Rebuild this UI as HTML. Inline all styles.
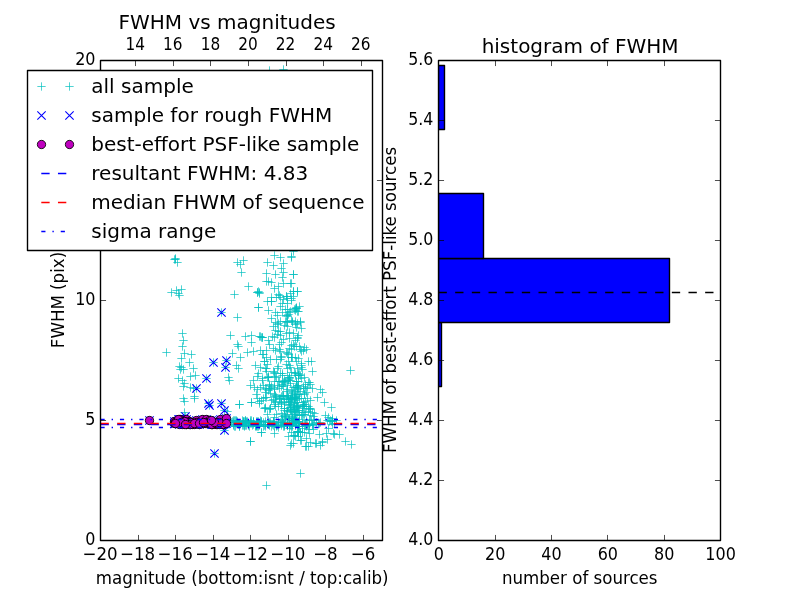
<!DOCTYPE html>
<html><head><meta charset="utf-8"><title>FWHM vs magnitudes</title>
<style>html,body{margin:0;padding:0;background:#fff;overflow:hidden}svg{display:block;will-change:transform}</style>
</head><body>
<svg width="800" height="600" viewBox="0 0 800 600">
<rect x="0" y="0" width="800" height="600" fill="#ffffff"/>
<defs><clipPath id="c1"><rect x="100" y="60" width="282" height="480"/></clipPath><clipPath id="c2"><rect x="438.18" y="60" width="281.82" height="480"/></clipPath></defs>
<g clip-path="url(#c1)">
<path d="M279.33 69.50H287.67M283.50 65.33V73.67M265.33 70.50H273.67M269.50 66.33V74.67M171.33 258.50H179.67M175.50 254.33V262.67M171.33 259.50H179.67M175.50 255.33V263.67M170.33 259.50H178.67M174.50 255.33V263.67M173.33 262.50H181.67M177.50 258.33V266.67M167.33 292.50H175.67M171.50 288.33V296.67M172.33 290.50H180.67M176.50 286.33V294.67M177.33 289.50H185.67M181.50 285.33V293.67M175.33 295.50H183.67M179.50 291.33V299.67M174.33 293.50H182.67M178.50 289.33V297.67M178.33 333.50H186.67M182.50 329.33V337.67M179.33 340.50H187.67M183.50 336.33V344.67M178.33 346.50H186.67M182.50 342.33V350.67M162.33 352.50H170.67M166.50 348.33V356.67M180.33 353.50H188.67M184.50 349.33V357.67M187.33 354.50H195.67M191.50 350.33V358.67M177.33 358.50H185.67M181.50 354.33V362.67M185.33 362.50H193.67M189.50 358.33V366.67M175.33 366.50H183.67M179.50 362.33V370.67M177.33 367.50H185.67M181.50 363.33V371.67M176.33 369.50H184.67M180.50 365.33V373.67M179.33 369.50H187.67M183.50 365.33V373.67M189.33 368.50H197.67M193.50 364.33V372.67M174.33 378.50H182.67M178.50 374.33V382.67M178.33 380.50H186.67M182.50 376.33V384.67M186.33 376.50H194.67M190.50 372.33V380.67M191.33 375.50H199.67M195.50 371.33V379.67M180.33 383.50H188.67M184.50 379.33V387.67M179.33 386.50H187.67M183.50 382.33V390.67M186.33 387.50H194.67M190.50 383.33V391.67M189.33 388.50H197.67M193.50 384.33V392.67M179.33 398.50H187.67M183.50 394.33V402.67M190.33 396.50H198.67M194.50 392.33V400.67M190.33 398.50H198.67M194.50 394.33V402.67M180.33 401.50H188.67M184.50 397.33V405.67M180.33 412.50H188.67M184.50 408.33V416.67M233.33 262.50H241.67M237.50 258.33V266.67M239.33 260.50H247.67M243.50 256.33V264.67M236.33 264.50H244.67M240.50 260.33V268.67M237.33 272.50H245.67M241.50 268.33V276.67M244.33 286.50H252.67M248.50 282.33V290.67M230.33 294.50H238.67M234.50 290.33V298.67M253.33 292.50H261.67M257.50 288.33V296.67M255.33 292.50H263.67M259.50 288.33V296.67M254.33 291.50H262.67M258.50 287.33V295.67M254.33 307.50H262.67M258.50 303.33V311.67M233.33 317.50H241.67M237.50 313.33V321.67M270.33 255.50H278.67M274.50 251.33V259.67M276.33 257.50H284.67M280.50 253.33V261.67M287.33 257.50H295.67M291.50 253.33V261.67M289.33 251.50H297.67M293.50 247.33V255.67M263.33 262.50H271.67M267.50 258.33V266.67M269.33 265.50H277.67M273.50 261.33V269.67M279.33 263.50H287.67M283.50 259.33V267.67M277.33 268.50H285.67M281.50 264.33V272.67M279.33 272.50H287.67M283.50 268.33V276.67M262.33 273.50H270.67M266.50 269.33V277.67M271.33 274.50H279.67M275.50 270.33V278.67M289.33 274.50H297.67M293.50 270.33V278.67M278.33 277.50H286.67M282.50 273.33V281.67M262.33 281.50H270.67M266.50 277.33V285.67M264.33 281.50H272.67M268.50 277.33V285.67M267.33 282.50H275.67M271.50 278.33V286.67M279.33 283.50H287.67M283.50 279.33V287.67M286.33 283.50H294.67M290.50 279.33V287.67M274.33 286.50H282.67M278.50 282.33V290.67M270.33 288.50H278.67M274.50 284.33V292.67M255.33 293.50H263.67M259.50 289.33V297.67M253.33 292.50H261.67M257.50 288.33V296.67M289.33 291.50H297.67M293.50 287.33V295.67M293.33 291.50H301.67M297.50 287.33V295.67M286.33 293.50H294.67M290.50 289.33V297.67M275.33 295.50H283.67M279.50 291.33V299.67M287.33 283.50H295.67M291.50 279.33V287.67M287.33 256.50H295.67M291.50 252.33V260.67M289.33 274.50H297.67M293.50 270.33V278.67M289.33 291.50H297.67M293.50 287.33V295.67M293.33 291.50H301.67M297.50 287.33V295.67M287.33 300.50H295.67M291.50 296.33V304.67M292.33 308.50H300.67M296.50 304.33V312.67M293.33 311.50H301.67M297.50 307.33V315.67M288.33 321.50H296.67M292.50 317.33V325.67M291.33 321.50H299.67M295.50 317.33V325.67M296.33 321.50H304.67M300.50 317.33V325.67M274.33 294.50H282.67M278.50 290.33V298.67M276.33 297.50H284.67M280.50 293.33V301.67M267.33 301.50H275.67M271.50 297.33V305.67M283.33 298.50H291.67M287.50 294.33V302.67M278.33 303.50H286.67M282.50 299.33V307.67M276.33 306.50H284.67M280.50 302.33V310.67M283.33 303.50H291.67M287.50 299.33V307.67M292.33 307.50H300.67M296.50 303.33V311.67M264.33 310.50H272.67M268.50 306.33V314.67M271.33 312.50H279.67M275.50 308.33V316.67M273.33 315.50H281.67M277.50 311.33V319.67M278.33 312.50H286.67M282.50 308.33V316.67M282.33 315.50H290.67M286.50 311.33V319.67M286.33 311.50H294.67M290.50 307.33V315.67M291.33 310.50H299.67M295.50 306.33V314.67M271.33 322.50H279.67M275.50 318.33V326.67M283.33 321.50H291.67M287.50 317.33V325.67M288.33 322.50H296.67M292.50 318.33V326.67M293.33 323.50H301.67M297.50 319.33V327.67M292.33 308.50H300.67M296.50 304.33V312.67M294.33 311.50H302.67M298.50 307.33V315.67M254.33 307.50H262.67M258.50 303.33V311.67M267.33 301.50H275.67M271.50 297.33V305.67M256.33 336.50H264.67M260.50 332.33V340.67M258.33 337.50H266.67M262.50 333.33V341.67M226.33 335.50H234.67M230.50 331.33V339.67M241.33 336.50H249.67M245.50 332.33V340.67M247.33 335.50H255.67M251.50 331.33V339.67M255.33 336.50H263.67M259.50 332.33V340.67M257.33 337.50H265.67M261.50 333.33V341.67M247.33 342.50H255.67M251.50 338.33V346.67M233.33 344.50H241.67M237.50 340.33V348.67M234.33 346.50H242.67M238.50 342.33V350.67M228.33 353.50H236.67M232.50 349.33V357.67M243.33 352.50H251.67M247.50 348.33V356.67M249.33 351.50H257.67M253.50 347.33V355.67M256.33 350.50H264.67M260.50 346.33V354.67M259.33 354.50H267.67M263.50 350.33V358.67M236.33 357.50H244.67M240.50 353.33V361.67M232.33 365.50H240.67M236.50 361.33V369.67M234.33 368.50H242.67M238.50 364.33V372.67M251.33 365.50H259.67M255.50 361.33V369.67M260.33 361.50H268.67M264.50 357.33V365.67M256.33 367.50H264.67M260.50 363.33V371.67M224.33 377.50H232.67M228.50 373.33V381.67M225.33 380.50H233.67M229.50 376.33V384.67M249.33 380.50H257.67M253.50 376.33V384.67M253.33 376.50H261.67M257.50 372.33V380.67M258.33 378.50H266.67M262.50 374.33V382.67M263.33 377.50H271.67M267.50 373.33V381.67M246.33 385.50H254.67M250.50 381.33V389.67M250.33 387.50H258.67M254.50 383.33V391.67M261.33 397.50H269.67M265.50 393.33V401.67M258.33 337.50H266.67M262.50 333.33V341.67M258.33 354.50H266.67M262.50 350.33V358.67M260.33 361.50H268.67M264.50 357.33V365.67M258.33 380.50H266.67M262.50 376.33V384.67M264.33 377.50H272.67M268.50 373.33V381.67M273.33 324.50H281.67M277.50 320.33V328.67M296.33 322.50H304.67M300.50 318.33V326.67M294.33 335.50H302.67M298.50 331.33V339.67M307.33 361.50H315.67M311.50 357.33V365.67M308.33 371.50H316.67M312.50 367.33V375.67M306.33 384.50H314.67M310.50 380.33V388.67M316.33 389.50H324.67M320.50 385.33V393.67M318.33 392.50H326.67M322.50 388.33V396.67M346.33 370.50H354.67M350.50 366.33V374.67M299.33 350.50H307.67M303.50 346.33V354.67M302.33 349.50H310.67M306.50 345.33V353.67M297.33 328.50H305.67M301.50 324.33V332.67M235.33 404.50H243.67M239.50 400.33V408.67M247.33 402.50H255.67M251.50 398.33V406.67M235.33 404.50H243.67M239.50 400.33V408.67M247.33 402.50H255.67M251.50 398.33V406.67M223.33 411.50H231.67M227.50 407.33V415.67M246.33 441.50H254.67M250.50 437.33V445.67M257.33 432.50H265.67M261.50 428.33V436.67M301.33 446.50H309.67M305.50 442.33V450.67M304.33 446.50H312.67M308.50 442.33V450.67M312.33 443.50H320.67M316.50 439.33V447.67M318.33 442.50H326.67M322.50 438.33V446.67M296.33 440.50H304.67M300.50 436.33V444.67M294.33 436.50H302.67M298.50 432.33V440.67M284.33 436.50H292.67M288.50 432.33V440.67M320.33 402.50H328.67M324.50 398.33V406.67M327.33 407.50H335.67M331.50 403.33V411.67M321.33 415.50H329.67M325.50 411.33V419.67M332.33 420.50H340.67M336.50 416.33V424.67M329.33 433.50H337.67M333.50 429.33V437.67M330.33 434.50H338.67M334.50 430.33V438.67M335.33 434.50H343.67M339.50 430.33V438.67M323.33 439.50H331.67M327.50 435.33V443.67M318.33 441.50H326.67M322.50 437.33V445.67M311.33 443.50H319.67M315.50 439.33V447.67M302.33 446.50H310.67M306.50 442.33V450.67M341.33 441.50H349.67M345.50 437.33V445.67M347.33 444.50H355.67M351.50 440.33V448.67M262.33 485.50H270.67M266.50 481.33V489.67M296.33 473.50H304.67M300.50 469.33V477.67M246.33 441.50H254.67M250.50 437.33V445.67M257.33 432.50H265.67M261.50 428.33V436.67M272.33 297.50H280.67M276.50 293.33V301.67M282.33 296.50H290.67M286.50 292.33V300.67M279.33 299.50H287.67M283.50 295.33V303.67M263.33 301.50H271.67M267.50 297.33V305.67M289.33 296.50H297.67M293.50 292.33V300.67M282.33 296.50H290.67M286.50 292.33V300.67M267.33 297.50H275.67M271.50 293.33V301.67M287.33 298.50H295.67M291.50 294.33V302.67M283.33 315.50H291.67M287.50 311.33V319.67M281.33 309.50H289.67M285.50 305.33V313.67M295.33 306.50H303.67M299.50 302.33V310.67M291.33 308.50H299.67M295.50 304.33V312.67M283.33 309.50H291.67M287.50 305.33V313.67M284.33 314.50H292.67M288.50 310.33V318.67M285.33 312.50H293.67M289.50 308.33V316.67M290.33 309.50H298.67M294.50 305.33V313.67M283.33 316.50H291.67M287.50 312.33V320.67M267.33 318.50H275.67M271.50 314.33V322.67M287.33 320.50H295.67M291.50 316.33V324.67M276.33 321.50H284.67M280.50 317.33V325.67M274.33 323.50H282.67M278.50 319.33V327.67M282.33 322.50H290.67M286.50 318.33V326.67M281.33 321.50H289.67M285.50 317.33V325.67M291.33 324.50H299.67M295.50 320.33V328.67M280.33 325.50H288.67M284.50 321.33V329.67M271.33 330.50H279.67M275.50 326.33V334.67M292.33 327.50H300.67M296.50 323.33V331.67M283.33 326.50H291.67M287.50 322.33V330.67M289.33 333.50H297.67M293.50 329.33V337.67M274.33 331.50H282.67M278.50 327.33V335.67M285.33 332.50H293.67M289.50 328.33V336.67M276.33 331.50H284.67M280.50 327.33V335.67M273.33 334.50H281.67M277.50 330.33V338.67M276.33 335.50H284.67M280.50 331.33V339.67M269.33 326.50H277.67M273.50 322.33V330.67M282.33 333.50H290.67M286.50 329.33V337.67M287.33 345.50H295.67M291.50 341.33V349.67M293.33 338.50H301.67M297.50 334.33V342.67M277.33 342.50H285.67M281.50 338.33V346.67M264.33 340.50H272.67M268.50 336.33V344.67M270.33 337.50H278.67M274.50 333.33V341.67M293.33 337.50H301.67M297.50 333.33V341.67M285.33 338.50H293.67M289.50 334.33V342.67M268.33 336.50H276.67M272.50 332.33V340.67M291.33 340.50H299.67M295.50 336.33V344.67M265.33 344.50H273.67M269.50 340.33V348.67M275.33 344.50H283.67M279.50 340.33V348.67M279.33 339.50H287.67M283.50 335.33V343.67M289.33 344.50H297.67M293.50 340.33V348.67M300.33 347.50H308.67M304.50 343.33V351.67M269.33 348.50H277.67M273.50 344.33V352.67M271.33 350.50H279.67M275.50 346.33V354.67M285.33 348.50H293.67M289.50 344.33V352.67M262.33 350.50H270.67M266.50 346.33V354.67M276.33 351.50H284.67M280.50 347.33V355.67M297.33 351.50H305.67M301.50 347.33V355.67M282.33 352.50H290.67M286.50 348.33V356.67M284.33 354.50H292.67M288.50 350.33V358.67M283.33 353.50H291.67M287.50 349.33V357.67M296.33 349.50H304.67M300.50 345.33V353.67M275.33 349.50H283.67M279.50 345.33V353.67M295.33 346.50H303.67M299.50 342.33V350.67M292.33 346.50H300.67M296.50 342.33V350.67M287.33 349.50H295.67M291.50 345.33V353.67M290.33 346.50H298.67M294.50 342.33V350.67M262.33 357.50H270.67M266.50 353.33V361.67M266.33 359.50H274.67M270.50 355.33V363.67M263.33 364.50H271.67M267.50 360.33V368.67M287.33 357.50H295.67M291.50 353.33V361.67M272.33 359.50H280.67M276.50 355.33V363.67M277.33 357.50H285.67M281.50 353.33V361.67M297.33 365.50H305.67M301.50 361.33V369.67M277.33 356.50H285.67M281.50 352.33V360.67M287.33 357.50H295.67M291.50 353.33V361.67M282.33 364.50H290.67M286.50 360.33V368.67M291.33 357.50H299.67M295.50 353.33V361.67M304.33 361.50H312.67M308.50 357.33V365.67M288.33 357.50H296.67M292.50 353.33V361.67M284.33 361.50H292.67M288.50 357.33V365.67M285.33 365.50H293.67M289.50 361.33V369.67M294.33 358.50H302.67M298.50 354.33V362.67M276.33 359.50H284.67M280.50 355.33V363.67M292.33 361.50H300.67M296.50 357.33V365.67M297.33 363.50H305.67M301.50 359.33V367.67M273.33 368.50H281.67M277.50 364.33V372.67M294.33 375.50H302.67M298.50 371.33V379.67M295.33 374.50H303.67M299.50 370.33V378.67M294.33 373.50H302.67M298.50 369.33V377.67M269.33 371.50H277.67M273.50 367.33V375.67M274.33 366.50H282.67M278.50 362.33V370.67M261.33 368.50H269.67M265.50 364.33V372.67M270.33 372.50H278.67M274.50 368.33V376.67M294.33 375.50H302.67M298.50 371.33V379.67M283.33 375.50H291.67M287.50 371.33V379.67M293.33 368.50H301.67M297.50 364.33V372.67M283.33 368.50H291.67M287.50 364.33V372.67M287.33 372.50H295.67M291.50 368.33V376.67M291.33 375.50H299.67M295.50 371.33V379.67M290.33 372.50H298.67M294.50 368.33V376.67M278.33 373.50H286.67M282.50 369.33V377.67M296.33 375.50H304.67M300.50 371.33V379.67M291.33 373.50H299.67M295.50 369.33V377.67M286.33 367.50H294.67M290.50 363.33V371.67M276.33 373.50H284.67M280.50 369.33V377.67M278.33 375.50H286.67M282.50 371.33V379.67M298.33 369.50H306.67M302.50 365.33V373.67M270.33 373.50H278.67M274.50 369.33V377.67M297.33 367.50H305.67M301.50 363.33V371.67M264.33 377.50H272.67M268.50 373.33V381.67M301.33 384.50H309.67M305.50 380.33V388.67M265.33 384.50H273.67M269.50 380.33V388.67M305.33 382.50H313.67M309.50 378.33V386.67M274.33 381.50H282.67M278.50 377.33V385.67M264.33 376.50H272.67M268.50 372.33V380.67M304.33 382.50H312.67M308.50 378.33V386.67M283.33 385.50H291.67M287.50 381.33V389.67M278.33 384.50H286.67M282.50 380.33V388.67M297.33 378.50H305.67M301.50 374.33V382.67M285.33 378.50H293.67M289.50 374.33V382.67M292.33 381.50H300.67M296.50 377.33V385.67M285.33 377.50H293.67M289.50 373.33V381.67M294.33 385.50H302.67M298.50 381.33V389.67M280.33 381.50H288.67M284.50 377.33V385.67M293.33 385.50H301.67M297.50 381.33V389.67M270.33 381.50H278.67M274.50 377.33V385.67M294.33 381.50H302.67M298.50 377.33V385.67M284.33 380.50H292.67M288.50 376.33V384.67M285.33 377.50H293.67M289.50 373.33V381.67M300.33 377.50H308.67M304.50 373.33V381.67M286.33 380.50H294.67M290.50 376.33V384.67M284.33 379.50H292.67M288.50 375.33V383.67M275.33 381.50H283.67M279.50 377.33V385.67M272.33 377.50H280.67M276.50 373.33V381.67M281.33 381.50H289.67M285.50 377.33V385.67M286.33 383.50H294.67M290.50 379.33V387.67M292.33 381.50H300.67M296.50 377.33V385.67M273.33 385.50H281.67M277.50 381.33V389.67M280.33 380.50H288.67M284.50 376.33V384.67M278.33 381.50H286.67M282.50 377.33V385.67M279.33 382.50H287.67M283.50 378.33V386.67M282.33 391.50H290.67M286.50 387.33V395.67M283.33 395.50H291.67M287.50 391.33V399.67M295.33 394.50H303.67M299.50 390.33V398.67M308.33 388.50H316.67M312.50 384.33V392.67M288.33 395.50H296.67M292.50 391.33V399.67M303.33 387.50H311.67M307.50 383.33V391.67M264.33 390.50H272.67M268.50 386.33V394.67M261.33 388.50H269.67M265.50 384.33V392.67M261.33 392.50H269.67M265.50 388.33V396.67M300.33 394.50H308.67M304.50 390.33V398.67M266.33 393.50H274.67M270.50 389.33V397.67M293.33 387.50H301.67M297.50 383.33V391.67M301.33 388.50H309.67M305.50 384.33V392.67M271.33 395.50H279.67M275.50 391.33V399.67M278.33 395.50H286.67M282.50 391.33V399.67M291.33 394.50H299.67M295.50 390.33V398.67M290.33 391.50H298.67M294.50 387.33V395.67M293.33 389.50H301.67M297.50 385.33V393.67M288.33 393.50H296.67M292.50 389.33V397.67M292.33 386.50H300.67M296.50 382.33V390.67M277.33 386.50H285.67M281.50 382.33V390.67M283.33 389.50H291.67M287.50 385.33V393.67M279.33 386.50H287.67M283.50 382.33V390.67M279.33 395.50H287.67M283.50 391.33V399.67M291.33 387.50H299.67M295.50 383.33V391.67M265.33 388.50H273.67M269.50 384.33V392.67M299.33 388.50H307.67M303.50 384.33V392.67M289.33 387.50H297.67M293.50 383.33V391.67M270.33 394.50H278.67M274.50 390.33V398.67M294.33 388.50H302.67M298.50 384.33V392.67M296.33 391.50H304.67M300.50 387.33V395.67M300.33 393.50H308.67M304.50 389.33V397.67M288.33 392.50H296.67M292.50 388.33V396.67M287.33 390.50H295.67M291.50 386.33V394.67M302.33 392.50H310.67M306.50 388.33V396.67M294.33 394.50H302.67M298.50 390.33V398.67M299.33 386.50H307.67M303.50 382.33V390.67M293.33 394.50H301.67M297.50 390.33V398.67M284.33 399.50H292.67M288.50 395.33V403.67M290.33 405.50H298.67M294.50 401.33V409.67M272.33 397.50H280.67M276.50 393.33V401.67M288.33 398.50H296.67M292.50 394.33V402.67M262.33 397.50H270.67M266.50 393.33V401.67M259.33 398.50H267.67M263.50 394.33V402.67M275.33 399.50H283.67M279.50 395.33V403.67M303.33 398.50H311.67M307.50 394.33V402.67M287.33 397.50H295.67M291.50 393.33V401.67M277.33 396.50H285.67M281.50 392.33V400.67M271.33 396.50H279.67M275.50 392.33V400.67M301.33 401.50H309.67M305.50 397.33V405.67M267.33 400.50H275.67M271.50 396.33V404.67M313.33 397.50H321.67M317.50 393.33V401.67M306.33 400.50H314.67M310.50 396.33V404.67M286.33 404.50H294.67M290.50 400.33V408.67M280.33 401.50H288.67M284.50 397.33V405.67M298.33 405.50H306.67M302.50 401.33V409.67M277.33 404.50H285.67M281.50 400.33V408.67M299.33 402.50H307.67M303.50 398.33V406.67M279.33 396.50H287.67M283.50 392.33V400.67M290.33 397.50H298.67M294.50 393.33V401.67M297.33 398.50H305.67M301.50 394.33V402.67M291.33 397.50H299.67M295.50 393.33V401.67M299.33 404.50H307.67M303.50 400.33V408.67M293.33 402.50H301.67M297.50 398.33V406.67M284.33 398.50H292.67M288.50 394.33V402.67M291.33 400.50H299.67M295.50 396.33V404.67M290.33 398.50H298.67M294.50 394.33V402.67M293.33 405.50H301.67M297.50 401.33V409.67M295.33 398.50H303.67M299.50 394.33V402.67M284.33 405.50H292.67M288.50 401.33V409.67M283.33 396.50H291.67M287.50 392.33V400.67M292.33 399.50H300.67M296.50 395.33V403.67M276.33 398.50H284.67M280.50 394.33V402.67M287.33 401.50H295.67M291.50 397.33V405.67M292.33 396.50H300.67M296.50 392.33V400.67M286.33 399.50H294.67M290.50 395.33V403.67M287.33 399.50H295.67M291.50 395.33V403.67M286.33 398.50H294.67M290.50 394.33V402.67M277.33 403.50H285.67M281.50 399.33V407.67M280.33 402.50H288.67M284.50 398.33V406.67M282.33 399.50H290.67M286.50 395.33V403.67M269.33 399.50H277.67M273.50 395.33V403.67M290.33 403.50H298.67M294.50 399.33V407.67M285.33 402.50H293.67M289.50 398.33V406.67M300.33 404.50H308.67M304.50 400.33V408.67M290.33 402.50H298.67M294.50 398.33V406.67M284.33 397.50H292.67M288.50 393.33V401.67M271.33 401.50H279.67M275.50 397.33V405.67M270.33 404.50H278.67M274.50 400.33V408.67M285.33 404.50H293.67M289.50 400.33V408.67M271.33 402.50H279.67M275.50 398.33V406.67M277.33 402.50H285.67M281.50 398.33V406.67M271.33 406.50H279.67M275.50 402.33V410.67M265.33 409.50H273.67M269.50 405.33V413.67M263.33 414.50H271.67M267.50 410.33V418.67M293.33 412.50H301.67M297.50 408.33V416.67M298.33 412.50H306.67M302.50 408.33V416.67M289.33 406.50H297.67M293.50 402.33V410.67M310.33 413.50H318.67M314.50 409.33V417.67M290.33 411.50H298.67M294.50 407.33V415.67M300.33 406.50H308.67M304.50 402.33V410.67M306.33 408.50H314.67M310.50 404.33V412.67M261.33 408.50H269.67M265.50 404.33V412.67M305.33 408.50H313.67M309.50 404.33V412.67M306.33 415.50H314.67M310.50 411.33V419.67M289.33 409.50H297.67M293.50 405.33V413.67M288.33 412.50H296.67M292.50 408.33V416.67M308.33 412.50H316.67M312.50 408.33V416.67M299.33 406.50H307.67M303.50 402.33V410.67M266.33 408.50H274.67M270.50 404.33V412.67M306.33 409.50H314.67M310.50 405.33V413.67M294.33 406.50H302.67M298.50 402.33V410.67M260.33 408.50H268.67M264.50 404.33V412.67M301.33 412.50H309.67M305.50 408.33V416.67M283.33 411.50H291.67M287.50 407.33V415.67M280.33 410.50H288.67M284.50 406.33V414.67M282.33 414.50H290.67M286.50 410.33V418.67M286.33 407.50H294.67M290.50 403.33V411.67M304.33 406.50H312.67M308.50 402.33V410.67M283.33 410.50H291.67M287.50 406.33V414.67M294.33 410.50H302.67M298.50 406.33V414.67M266.33 408.50H274.67M270.50 404.33V412.67M290.33 408.50H298.67M294.50 404.33V412.67M304.33 411.50H312.67M308.50 407.33V415.67M292.33 415.50H300.67M296.50 411.33V419.67M293.33 407.50H301.67M297.50 403.33V411.67M290.33 414.50H298.67M294.50 410.33V418.67M277.33 413.50H285.67M281.50 409.33V417.67M287.33 410.50H295.67M291.50 406.33V414.67M302.33 406.50H310.67M306.50 402.33V410.67M295.33 410.50H303.67M299.50 406.33V414.67M286.33 409.50H294.67M290.50 405.33V413.67M290.33 409.50H298.67M294.50 405.33V413.67M291.33 414.50H299.67M295.50 410.33V418.67M299.33 414.50H307.67M303.50 410.33V418.67M286.33 407.50H294.67M290.50 403.33V411.67M297.33 415.50H305.67M301.50 411.33V419.67M280.33 408.50H288.67M284.50 404.33V412.67M280.33 415.50H288.67M284.50 411.33V419.67M291.33 411.50H299.67M295.50 407.33V415.67M280.33 408.50H288.67M284.50 404.33V412.67M292.33 406.50H300.67M296.50 402.33V410.67M298.33 408.50H306.67M302.50 404.33V412.67M295.33 415.50H303.67M299.50 411.33V419.67M286.33 411.50H294.67M290.50 407.33V415.67M292.33 407.50H300.67M296.50 403.33V411.67M272.33 414.50H280.67M276.50 410.33V418.67M300.33 414.50H308.67M304.50 410.33V418.67M303.33 425.50H311.67M307.50 421.33V429.67M325.33 421.50H333.67M329.50 417.33V425.67M309.33 416.50H317.67M313.50 412.33V420.67M310.33 420.50H318.67M314.50 416.33V424.67M312.33 422.50H320.67M316.50 418.33V426.67M278.33 416.50H286.67M282.50 412.33V420.67M324.33 417.50H332.67M328.50 413.33V421.67M291.33 419.50H299.67M295.50 415.33V423.67M279.33 423.50H287.67M283.50 419.33V427.67M328.33 418.50H336.67M332.50 414.33V422.67M305.33 419.50H313.67M309.50 415.33V423.67M298.33 419.50H306.67M302.50 415.33V423.67M270.33 417.50H278.67M274.50 413.33V421.67M272.33 425.50H280.67M276.50 421.33V429.67M280.33 425.50H288.67M284.50 421.33V429.67M286.33 425.50H294.67M290.50 421.33V429.67M281.33 417.50H289.67M285.50 413.33V421.67M287.33 416.50H295.67M291.50 412.33V420.67M284.33 418.50H292.67M288.50 414.33V422.67M288.33 418.50H296.67M292.50 414.33V422.67M270.33 423.50H278.67M274.50 419.33V427.67M278.33 420.50H286.67M282.50 416.33V424.67M277.33 419.50H285.67M281.50 415.33V423.67M291.33 419.50H299.67M295.50 415.33V423.67M291.33 425.50H299.67M295.50 421.33V429.67M288.33 417.50H296.67M292.50 413.33V421.67M274.33 424.50H282.67M278.50 420.33V428.67M285.33 418.50H293.67M289.50 414.33V422.67M285.33 419.50H293.67M289.50 415.33V423.67M291.33 420.50H299.67M295.50 416.33V424.67M300.33 424.50H308.67M304.50 420.33V428.67M281.33 416.50H289.67M285.50 412.33V420.67M298.33 424.50H306.67M302.50 420.33V428.67M288.33 420.50H296.67M292.50 416.33V424.67M302.33 426.50H310.67M306.50 422.33V430.67M290.33 435.50H298.67M294.50 431.33V439.67M315.33 434.50H323.67M319.50 430.33V438.67M324.33 428.50H332.67M328.50 424.33V432.67M274.33 427.50H282.67M278.50 423.33V431.67M298.33 432.50H306.67M302.50 428.33V436.67M322.33 433.50H330.67M326.50 429.33V437.67M305.33 433.50H313.67M309.50 429.33V437.67M294.33 431.50H302.67M298.50 427.33V435.67M270.33 433.50H278.67M274.50 429.33V437.67M293.33 432.50H301.67M297.50 428.33V436.67M309.33 429.50H317.67M313.50 425.33V433.67M296.33 432.50H304.67M300.50 428.33V436.67M296.33 432.50H304.67M300.50 428.33V436.67M294.33 431.50H302.67M298.50 427.33V435.67M293.33 431.50H301.67M297.50 427.33V435.67M287.33 432.50H295.67M291.50 428.33V436.67M295.33 426.50H303.67M299.50 422.33V430.67M289.33 435.50H297.67M293.50 431.33V439.67M300.33 432.50H308.67M304.50 428.33V436.67M298.33 428.50H306.67M302.50 424.33V432.67M285.33 428.50H293.67M289.50 424.33V432.67M304.33 429.50H312.67M308.50 425.33V433.67M288.33 426.50H296.67M292.50 422.33V430.67M306.33 442.50H314.67M310.50 438.33V446.67M302.33 438.50H310.67M306.50 434.33V442.67M316.33 445.50H324.67M320.50 441.33V449.67M291.33 436.50H299.67M295.50 432.33V440.67M297.33 440.50H305.67M301.50 436.33V444.67M289.33 443.50H297.67M293.50 439.33V447.67M287.33 443.50H295.67M291.50 439.33V447.67M286.33 445.50H294.67M290.50 441.33V449.67M248.33 425.50H256.67M252.50 421.33V429.67M242.33 421.50H250.67M246.50 417.33V425.67M279.33 422.50H287.67M283.50 418.33V426.67M292.33 423.50H300.67M296.50 419.33V427.67M239.33 421.50H247.67M243.50 417.33V425.67M255.33 424.50H263.67M259.50 420.33V428.67M292.33 421.50H300.67M296.50 417.33V425.67M254.33 421.50H262.67M258.50 417.33V425.67M294.33 421.50H302.67M298.50 417.33V425.67M230.33 420.50H238.67M234.50 416.33V424.67M254.33 426.50H262.67M258.50 422.33V430.67M287.33 425.50H295.67M291.50 421.33V429.67M295.33 426.50H303.67M299.50 422.33V430.67M249.33 421.50H257.67M253.50 417.33V425.67M291.33 425.50H299.67M295.50 421.33V429.67M229.33 424.50H237.67M233.50 420.33V428.67M253.33 422.50H261.67M257.50 418.33V426.67M249.33 421.50H257.67M253.50 417.33V425.67M227.33 422.50H235.67M231.50 418.33V426.67M251.33 426.50H259.67M255.50 422.33V430.67M235.33 426.50H243.67M239.50 422.33V430.67M241.33 422.50H249.67M245.50 418.33V426.67M283.33 425.50H291.67M287.50 421.33V429.67M256.33 420.50H264.67M260.50 416.33V424.67M259.33 422.50H267.67M263.50 418.33V426.67M290.33 421.50H298.67M294.50 417.33V425.67M252.33 426.50H260.67M256.50 422.33V430.67M229.33 422.50H237.67M233.50 418.33V426.67M283.33 425.50H291.67M287.50 421.33V429.67M229.33 420.50H237.67M233.50 416.33V424.67M231.33 426.50H239.67M235.50 422.33V430.67M244.33 425.50H252.67M248.50 421.33V429.67M289.33 422.50H297.67M293.50 418.33V426.67M245.33 426.50H253.67M249.50 422.33V430.67M269.33 421.50H277.67M273.50 417.33V425.67M276.33 422.50H284.67M280.50 418.33V426.67M246.33 420.50H254.67M250.50 416.33V424.67M279.33 426.50H287.67M283.50 422.33V430.67M270.33 426.50H278.67M274.50 422.33V430.67M228.33 421.50H236.67M232.50 417.33V425.67M259.33 426.50H267.67M263.50 422.33V430.67M292.33 422.50H300.67M296.50 418.33V426.67M244.33 423.50H252.67M248.50 419.33V427.67M261.33 426.50H269.67M265.50 422.33V430.67M239.33 425.50H247.67M243.50 421.33V429.67M277.33 425.50H285.67M281.50 421.33V429.67M280.33 424.50H288.67M284.50 420.33V428.67M249.33 422.50H257.67M253.50 418.33V426.67M251.33 425.50H259.67M255.50 421.33V429.67M232.33 421.50H240.67M236.50 417.33V425.67M278.33 421.50H286.67M282.50 417.33V425.67M231.33 420.50H239.67M235.50 416.33V424.67M265.33 422.50H273.67M269.50 418.33V426.67M294.33 426.50H302.67M298.50 422.33V430.67M295.33 421.50H303.67M299.50 417.33V425.67M232.33 420.50H240.67M236.50 416.33V424.67M261.33 424.50H269.67M265.50 420.33V428.67M257.33 421.50H265.67M261.50 417.33V425.67M255.33 424.50H263.67M259.50 420.33V428.67M273.33 425.50H281.67M277.50 421.33V429.67M285.33 424.50H293.67M289.50 420.33V428.67M235.33 425.50H243.67M239.50 421.33V429.67M247.33 423.50H255.67M251.50 419.33V427.67M252.33 425.50H260.67M256.50 421.33V429.67M240.33 421.50H248.67M244.50 417.33V425.67M243.33 421.50H251.67M247.50 417.33V425.67M288.33 424.50H296.67M292.50 420.33V428.67M249.33 422.50H257.67M253.50 418.33V426.67M295.33 423.50H303.67M299.50 419.33V427.67M242.33 425.50H250.67M246.50 421.33V429.67M272.33 426.50H280.67M276.50 422.33V430.67M234.33 423.50H242.67M238.50 419.33V427.67M283.33 425.50H291.67M287.50 421.33V429.67M290.33 420.50H298.67M294.50 416.33V424.67M247.33 420.50H255.67M251.50 416.33V424.67M240.33 426.50H248.67M244.50 422.33V430.67M267.33 426.50H275.67M271.50 422.33V430.67M252.33 425.50H260.67M256.50 421.33V429.67M257.33 421.50H265.67M261.50 417.33V425.67M280.33 426.50H288.67M284.50 422.33V430.67M234.33 424.50H242.67M238.50 420.33V428.67M269.33 421.50H277.67M273.50 417.33V425.67M252.33 421.50H260.67M256.50 417.33V425.67M241.33 421.50H249.67M245.50 417.33V425.67M268.33 424.50H276.67M272.50 420.33V428.67M241.33 420.50H249.67M245.50 416.33V424.67M249.33 424.50H257.67M253.50 420.33V428.67M239.33 422.50H247.67M243.50 418.33V426.67M241.33 425.50H249.67M245.50 421.33V429.67M264.33 420.50H272.67M268.50 416.33V424.67M233.33 422.50H241.67M237.50 418.33V426.67M264.33 424.50H272.67M268.50 420.33V428.67M233.33 421.50H241.67M237.50 417.33V425.67M274.33 422.50H282.67M278.50 418.33V426.67M246.33 422.50H254.67M250.50 418.33V426.67M292.33 422.50H300.67M296.50 418.33V426.67M266.33 422.50H274.67M270.50 418.33V426.67M255.33 425.50H263.67M259.50 421.33V429.67M295.33 422.50H303.67M299.50 418.33V426.67M240.33 425.50H248.67M244.50 421.33V429.67M241.33 420.50H249.67M245.50 416.33V424.67M289.33 422.50H297.67M293.50 418.33V426.67M283.33 422.50H291.67M287.50 418.33V426.67M287.33 423.50H295.67M291.50 419.33V427.67M238.33 420.50H246.67M242.50 416.33V424.67M265.33 424.50H273.67M269.50 420.33V428.67M289.33 420.50H297.67M293.50 416.33V424.67M269.33 422.50H277.67M273.50 418.33V426.67M261.33 421.50H269.67M265.50 417.33V425.67M246.33 423.50H254.67M250.50 419.33V427.67M290.33 420.50H298.67M294.50 416.33V424.67M260.33 425.50H268.67M264.50 421.33V429.67M293.33 421.50H301.67M297.50 417.33V425.67M235.33 426.50H243.67M239.50 422.33V430.67M294.33 423.50H302.67M298.50 419.33V427.67M230.33 426.50H238.67M234.50 422.33V430.67M253.33 426.50H261.67M257.50 422.33V430.67M269.33 425.50H277.67M273.50 421.33V429.67M238.33 425.50H246.67M242.50 421.33V429.67M242.33 422.50H250.67M246.50 418.33V426.67M285.33 425.50H293.67M289.50 421.33V429.67M239.33 421.50H247.67M243.50 417.33V425.67M254.33 423.50H262.67M258.50 419.33V427.67M253.33 421.50H261.67M257.50 417.33V425.67M244.33 424.50H252.67M248.50 420.33V428.67M288.33 420.50H296.67M292.50 416.33V424.67M265.33 425.50H273.67M269.50 421.33V429.67M229.33 425.50H237.67M233.50 421.33V429.67M235.33 424.50H243.67M239.50 420.33V428.67M264.33 424.50H272.67M268.50 420.33V428.67M259.33 385.50H267.67M263.50 381.33V389.67M265.33 385.50H273.67M269.50 381.33V389.67M267.33 386.50H275.67M271.50 382.33V390.67M262.33 368.50H270.67M266.50 364.33V372.67M266.33 388.50H274.67M270.50 384.33V392.67M257.33 400.50H265.67M261.50 396.33V404.67M270.33 387.50H278.67M274.50 383.33V391.67M256.33 387.50H264.67M260.50 383.33V391.67M254.33 373.50H262.67M258.50 369.33V377.67M262.33 371.50H270.67M266.50 367.33V375.67M262.33 389.50H270.67M266.50 385.33V393.67M252.33 394.50H260.67M256.50 390.33V398.67M253.33 398.50H261.67M257.50 394.33V402.67M270.33 389.50H278.67M274.50 385.33V393.67M253.33 389.50H261.67M257.50 385.33V393.67M261.33 407.50H269.67M265.50 403.33V411.67M255.33 403.50H263.67M259.50 399.33V407.67M275.33 398.50H283.67M279.50 394.33V402.67M271.33 376.50H279.67M275.50 372.33V380.67M275.33 388.50H283.67M279.50 384.33V392.67M274.33 406.50H282.67M278.50 402.33V410.67M255.33 401.50H263.67M259.50 397.33V405.67M328.33 420.50H336.67M332.50 416.33V424.67M308.33 424.50H316.67M312.50 420.33V428.67M301.33 425.50H309.67M305.50 421.33V429.67M305.33 424.50H313.67M309.50 420.33V428.67M301.33 423.50H309.67M305.50 419.33V427.67M328.33 421.50H336.67M332.50 417.33V425.67M305.33 423.50H313.67M309.50 419.33V427.67M307.33 420.50H315.67M311.50 416.33V424.67M302.33 420.50H310.67M306.50 416.33V424.67M328.33 424.50H336.67M332.50 420.33V428.67M327.33 421.50H335.67M331.50 417.33V425.67M323.33 420.50H331.67M327.50 416.33V424.67M314.33 423.50H322.67M318.50 419.33V427.67M308.33 425.50H316.67M312.50 421.33V429.67M315.33 423.50H323.67M319.50 419.33V427.67M326.33 420.50H334.67M330.50 416.33V424.67M330.33 423.50H338.67M334.50 419.33V427.67M309.33 424.50H317.67M313.50 420.33V428.67M305.33 425.50H313.67M309.50 421.33V429.67M316.33 422.50H324.67M320.50 418.33V426.67M192.33 388.50H200.67M196.50 384.33V392.67M202.33 378.50H210.67M206.50 374.33V382.67M209.33 362.50H217.67M213.50 358.33V366.67M222.33 360.50H230.67M226.50 356.33V364.67M221.33 367.50H229.67M225.50 363.33V371.67M217.33 312.50H225.67M221.50 308.33V316.67M210.33 453.50H218.67M214.50 449.33V457.67M204.33 403.50H212.67M208.50 399.33V407.67M205.33 405.50H213.67M209.50 401.33V409.67M217.33 403.50H225.67M221.50 399.33V407.67M220.33 410.50H228.67M224.50 406.33V414.67M220.33 430.50H228.67M224.50 426.33V434.67M181.33 416.50H189.67M185.50 412.33V420.67M145.33 420.50H153.67M149.50 416.33V424.67M208.33 422.50H216.67M212.50 418.33V426.67M207.33 424.50H215.67M211.50 420.33V428.67M182.33 424.50H190.67M186.50 420.33V428.67M199.33 422.50H207.67M203.50 418.33V426.67M170.33 421.50H178.67M174.50 417.33V425.67M201.33 423.50H209.67M205.50 419.33V427.67M215.33 422.50H223.67M219.50 418.33V426.67M203.33 421.50H211.67M207.50 417.33V425.67M188.33 422.50H196.67M192.50 418.33V426.67M181.33 423.50H189.67M185.50 419.33V427.67M180.33 423.50H188.67M184.50 419.33V427.67M176.33 419.50H184.67M180.50 415.33V423.67M177.33 423.50H185.67M181.50 419.33V427.67M214.33 422.50H222.67M218.50 418.33V426.67M183.33 423.50H191.67M187.50 419.33V427.67M198.33 423.50H206.67M202.50 419.33V427.67M192.33 420.50H200.67M196.50 416.33V424.67M182.33 419.50H190.67M186.50 415.33V423.67M197.33 422.50H205.67M201.50 418.33V426.67M172.33 421.50H180.67M176.50 417.33V425.67M198.33 419.50H206.67M202.50 415.33V423.67M180.33 423.50H188.67M184.50 419.33V427.67M202.33 422.50H210.67M206.50 418.33V426.67M185.33 421.50H193.67M189.50 417.33V425.67M215.33 423.50H223.67M219.50 419.33V427.67M170.33 423.50H178.67M174.50 419.33V427.67M193.33 422.50H201.67M197.50 418.33V426.67M181.33 422.50H189.67M185.50 418.33V426.67M171.33 423.50H179.67M175.50 419.33V427.67M205.33 423.50H213.67M209.50 419.33V427.67M183.33 422.50H191.67M187.50 418.33V426.67M210.33 422.50H218.67M214.50 418.33V426.67M202.33 419.50H210.67M206.50 415.33V423.67M214.33 422.50H222.67M218.50 418.33V426.67M182.33 424.50H190.67M186.50 420.33V428.67M208.33 424.50H216.67M212.50 420.33V428.67M186.33 424.50H194.67M190.50 420.33V428.67M202.33 423.50H210.67M206.50 419.33V427.67M219.33 424.50H227.67M223.50 420.33V428.67M205.33 420.50H213.67M209.50 416.33V424.67M206.33 422.50H214.67M210.50 418.33V426.67M180.33 421.50H188.67M184.50 417.33V425.67M216.33 421.50H224.67M220.50 417.33V425.67M175.33 419.50H183.67M179.50 415.33V423.67M177.33 421.50H185.67M181.50 417.33V425.67M205.33 423.50H213.67M209.50 419.33V427.67M207.33 423.50H215.67M211.50 419.33V427.67M188.33 424.50H196.67M192.50 420.33V428.67M215.33 424.50H223.67M219.50 420.33V428.67M216.33 419.50H224.67M220.50 415.33V423.67M180.33 421.50H188.67M184.50 417.33V425.67M213.33 423.50H221.67M217.50 419.33V427.67M212.33 422.50H220.67M216.50 418.33V426.67M175.33 423.50H183.67M179.50 419.33V427.67M180.33 422.50H188.67M184.50 418.33V426.67M171.33 422.50H179.67M175.50 418.33V426.67M206.33 422.50H214.67M210.50 418.33V426.67M219.33 424.50H227.67M223.50 420.33V428.67M201.33 422.50H209.67M205.50 418.33V426.67M192.33 422.50H200.67M196.50 418.33V426.67M205.33 422.50H213.67M209.50 418.33V426.67M213.33 424.50H221.67M217.50 420.33V428.67M178.33 422.50H186.67M182.50 418.33V426.67M208.33 424.50H216.67M212.50 420.33V428.67M195.33 424.50H203.67M199.50 420.33V428.67M179.33 422.50H187.67M183.50 418.33V426.67M212.33 424.50H220.67M216.50 420.33V428.67M184.33 423.50H192.67M188.50 419.33V427.67M195.33 423.50H203.67M199.50 419.33V427.67M174.33 423.50H182.67M178.50 419.33V427.67M210.33 422.50H218.67M214.50 418.33V426.67M190.33 424.50H198.67M194.50 420.33V428.67M174.33 419.50H182.67M178.50 415.33V423.67M180.33 424.50H188.67M184.50 420.33V428.67M195.33 424.50H203.67M199.50 420.33V428.67M181.33 423.50H189.67M185.50 419.33V427.67M208.33 423.50H216.67M212.50 419.33V427.67M187.33 422.50H195.67M191.50 418.33V426.67M212.33 423.50H220.67M216.50 419.33V427.67M178.33 424.50H186.67M182.50 420.33V428.67M199.33 423.50H207.67M203.50 419.33V427.67M215.33 422.50H223.67M219.50 418.33V426.67M185.33 424.50H193.67M189.50 420.33V428.67M177.33 422.50H185.67M181.50 418.33V426.67M186.33 422.50H194.67M190.50 418.33V426.67M186.33 424.50H194.67M190.50 420.33V428.67M207.33 424.50H215.67M211.50 420.33V428.67M175.33 424.50H183.67M179.50 420.33V428.67M210.33 422.50H218.67M214.50 418.33V426.67M180.33 421.50H188.67M184.50 417.33V425.67M180.33 421.50H188.67M184.50 417.33V425.67M190.33 423.50H198.67M194.50 419.33V427.67M195.33 423.50H203.67M199.50 419.33V427.67M177.33 422.50H185.67M181.50 418.33V426.67M207.33 420.50H215.67M211.50 416.33V424.67M199.33 422.50H207.67M203.50 418.33V426.67M181.33 424.50H189.67M185.50 420.33V428.67M222.33 418.50H230.67M226.50 414.33V422.67M222.33 423.50H230.67M226.50 419.33V427.67M171.33 423.50H179.67M175.50 419.33V427.67" stroke="#00bfbf" stroke-width="0.6944" fill="none"/>
<path d="M192.33 384.33L200.67 392.67M192.33 392.67L200.67 384.33M202.33 374.33L210.67 382.67M202.33 382.67L210.67 374.33M209.33 358.33L217.67 366.67M209.33 366.67L217.67 358.33M222.33 356.33L230.67 364.67M222.33 364.67L230.67 356.33M221.33 363.33L229.67 371.67M221.33 371.67L229.67 363.33M217.33 308.33L225.67 316.67M217.33 316.67L225.67 308.33M210.33 449.33L218.67 457.67M210.33 457.67L218.67 449.33M204.33 399.33L212.67 407.67M204.33 407.67L212.67 399.33M205.33 401.33L213.67 409.67M205.33 409.67L213.67 401.33M217.33 399.33L225.67 407.67M217.33 407.67L225.67 399.33M220.33 406.33L228.67 414.67M220.33 414.67L228.67 406.33M220.33 426.33L228.67 434.67M220.33 434.67L228.67 426.33M181.33 412.33L189.67 420.67M181.33 420.67L189.67 412.33M145.33 416.33L153.67 424.67M145.33 424.67L153.67 416.33M208.33 418.33L216.67 426.67M208.33 426.67L216.67 418.33M207.33 420.33L215.67 428.67M207.33 428.67L215.67 420.33M182.33 420.33L190.67 428.67M182.33 428.67L190.67 420.33M199.33 418.33L207.67 426.67M199.33 426.67L207.67 418.33M170.33 417.33L178.67 425.67M170.33 425.67L178.67 417.33M201.33 419.33L209.67 427.67M201.33 427.67L209.67 419.33M215.33 418.33L223.67 426.67M215.33 426.67L223.67 418.33M203.33 417.33L211.67 425.67M203.33 425.67L211.67 417.33M188.33 418.33L196.67 426.67M188.33 426.67L196.67 418.33M181.33 419.33L189.67 427.67M181.33 427.67L189.67 419.33M180.33 419.33L188.67 427.67M180.33 427.67L188.67 419.33M176.33 415.33L184.67 423.67M176.33 423.67L184.67 415.33M177.33 419.33L185.67 427.67M177.33 427.67L185.67 419.33M214.33 418.33L222.67 426.67M214.33 426.67L222.67 418.33M183.33 419.33L191.67 427.67M183.33 427.67L191.67 419.33M198.33 419.33L206.67 427.67M198.33 427.67L206.67 419.33M192.33 416.33L200.67 424.67M192.33 424.67L200.67 416.33M182.33 415.33L190.67 423.67M182.33 423.67L190.67 415.33M197.33 418.33L205.67 426.67M197.33 426.67L205.67 418.33M172.33 417.33L180.67 425.67M172.33 425.67L180.67 417.33M198.33 415.33L206.67 423.67M198.33 423.67L206.67 415.33M180.33 419.33L188.67 427.67M180.33 427.67L188.67 419.33M202.33 418.33L210.67 426.67M202.33 426.67L210.67 418.33M185.33 417.33L193.67 425.67M185.33 425.67L193.67 417.33M215.33 419.33L223.67 427.67M215.33 427.67L223.67 419.33M170.33 419.33L178.67 427.67M170.33 427.67L178.67 419.33M193.33 418.33L201.67 426.67M193.33 426.67L201.67 418.33M181.33 418.33L189.67 426.67M181.33 426.67L189.67 418.33M171.33 419.33L179.67 427.67M171.33 427.67L179.67 419.33M205.33 419.33L213.67 427.67M205.33 427.67L213.67 419.33M183.33 418.33L191.67 426.67M183.33 426.67L191.67 418.33M210.33 418.33L218.67 426.67M210.33 426.67L218.67 418.33M202.33 415.33L210.67 423.67M202.33 423.67L210.67 415.33M214.33 418.33L222.67 426.67M214.33 426.67L222.67 418.33M182.33 420.33L190.67 428.67M182.33 428.67L190.67 420.33M208.33 420.33L216.67 428.67M208.33 428.67L216.67 420.33M186.33 420.33L194.67 428.67M186.33 428.67L194.67 420.33M202.33 419.33L210.67 427.67M202.33 427.67L210.67 419.33M219.33 420.33L227.67 428.67M219.33 428.67L227.67 420.33M205.33 416.33L213.67 424.67M205.33 424.67L213.67 416.33M206.33 418.33L214.67 426.67M206.33 426.67L214.67 418.33M180.33 417.33L188.67 425.67M180.33 425.67L188.67 417.33M216.33 417.33L224.67 425.67M216.33 425.67L224.67 417.33M175.33 415.33L183.67 423.67M175.33 423.67L183.67 415.33M177.33 417.33L185.67 425.67M177.33 425.67L185.67 417.33M205.33 419.33L213.67 427.67M205.33 427.67L213.67 419.33M207.33 419.33L215.67 427.67M207.33 427.67L215.67 419.33M188.33 420.33L196.67 428.67M188.33 428.67L196.67 420.33M215.33 420.33L223.67 428.67M215.33 428.67L223.67 420.33M216.33 415.33L224.67 423.67M216.33 423.67L224.67 415.33M180.33 417.33L188.67 425.67M180.33 425.67L188.67 417.33M213.33 419.33L221.67 427.67M213.33 427.67L221.67 419.33M212.33 418.33L220.67 426.67M212.33 426.67L220.67 418.33M175.33 419.33L183.67 427.67M175.33 427.67L183.67 419.33M180.33 418.33L188.67 426.67M180.33 426.67L188.67 418.33M171.33 418.33L179.67 426.67M171.33 426.67L179.67 418.33M206.33 418.33L214.67 426.67M206.33 426.67L214.67 418.33M219.33 420.33L227.67 428.67M219.33 428.67L227.67 420.33M201.33 418.33L209.67 426.67M201.33 426.67L209.67 418.33M192.33 418.33L200.67 426.67M192.33 426.67L200.67 418.33M205.33 418.33L213.67 426.67M205.33 426.67L213.67 418.33M213.33 420.33L221.67 428.67M213.33 428.67L221.67 420.33M178.33 418.33L186.67 426.67M178.33 426.67L186.67 418.33M208.33 420.33L216.67 428.67M208.33 428.67L216.67 420.33M195.33 420.33L203.67 428.67M195.33 428.67L203.67 420.33M179.33 418.33L187.67 426.67M179.33 426.67L187.67 418.33M212.33 420.33L220.67 428.67M212.33 428.67L220.67 420.33M184.33 419.33L192.67 427.67M184.33 427.67L192.67 419.33M195.33 419.33L203.67 427.67M195.33 427.67L203.67 419.33M174.33 419.33L182.67 427.67M174.33 427.67L182.67 419.33M210.33 418.33L218.67 426.67M210.33 426.67L218.67 418.33M190.33 420.33L198.67 428.67M190.33 428.67L198.67 420.33M174.33 415.33L182.67 423.67M174.33 423.67L182.67 415.33M180.33 420.33L188.67 428.67M180.33 428.67L188.67 420.33M195.33 420.33L203.67 428.67M195.33 428.67L203.67 420.33M181.33 419.33L189.67 427.67M181.33 427.67L189.67 419.33M208.33 419.33L216.67 427.67M208.33 427.67L216.67 419.33M187.33 418.33L195.67 426.67M187.33 426.67L195.67 418.33M212.33 419.33L220.67 427.67M212.33 427.67L220.67 419.33M178.33 420.33L186.67 428.67M178.33 428.67L186.67 420.33M199.33 419.33L207.67 427.67M199.33 427.67L207.67 419.33M215.33 418.33L223.67 426.67M215.33 426.67L223.67 418.33M185.33 420.33L193.67 428.67M185.33 428.67L193.67 420.33M177.33 418.33L185.67 426.67M177.33 426.67L185.67 418.33M186.33 418.33L194.67 426.67M186.33 426.67L194.67 418.33M186.33 420.33L194.67 428.67M186.33 428.67L194.67 420.33M207.33 420.33L215.67 428.67M207.33 428.67L215.67 420.33M175.33 420.33L183.67 428.67M175.33 428.67L183.67 420.33M210.33 418.33L218.67 426.67M210.33 426.67L218.67 418.33M180.33 417.33L188.67 425.67M180.33 425.67L188.67 417.33M180.33 417.33L188.67 425.67M180.33 425.67L188.67 417.33M190.33 419.33L198.67 427.67M190.33 427.67L198.67 419.33M195.33 419.33L203.67 427.67M195.33 427.67L203.67 419.33M177.33 418.33L185.67 426.67M177.33 426.67L185.67 418.33M207.33 416.33L215.67 424.67M207.33 424.67L215.67 416.33M199.33 418.33L207.67 426.67M199.33 426.67L207.67 418.33M181.33 420.33L189.67 428.67M181.33 428.67L189.67 420.33M222.33 414.33L230.67 422.67M222.33 422.67L230.67 414.33M222.33 419.33L230.67 427.67M222.33 427.67L230.67 419.33M171.33 419.33L179.67 427.67M171.33 427.67L179.67 419.33" stroke="#0000ff" stroke-width="1.1" fill="none"/>
<circle cx="149.5" cy="420.5" r="4.1667" fill="#bf00bf" stroke="#000" stroke-width="0.85"/>
<circle cx="212.5" cy="422.5" r="4.1667" fill="#bf00bf" stroke="#000" stroke-width="0.85"/>
<circle cx="211.5" cy="424.5" r="4.1667" fill="#bf00bf" stroke="#000" stroke-width="0.85"/>
<circle cx="186.5" cy="424.5" r="4.1667" fill="#bf00bf" stroke="#000" stroke-width="0.85"/>
<circle cx="203.5" cy="422.5" r="4.1667" fill="#bf00bf" stroke="#000" stroke-width="0.85"/>
<circle cx="174.5" cy="421.5" r="4.1667" fill="#bf00bf" stroke="#000" stroke-width="0.85"/>
<circle cx="205.5" cy="423.5" r="4.1667" fill="#bf00bf" stroke="#000" stroke-width="0.85"/>
<circle cx="219.5" cy="422.5" r="4.1667" fill="#bf00bf" stroke="#000" stroke-width="0.85"/>
<circle cx="207.5" cy="421.5" r="4.1667" fill="#bf00bf" stroke="#000" stroke-width="0.85"/>
<circle cx="192.5" cy="422.5" r="4.1667" fill="#bf00bf" stroke="#000" stroke-width="0.85"/>
<circle cx="185.5" cy="423.5" r="4.1667" fill="#bf00bf" stroke="#000" stroke-width="0.85"/>
<circle cx="184.5" cy="423.5" r="4.1667" fill="#bf00bf" stroke="#000" stroke-width="0.85"/>
<circle cx="180.5" cy="419.5" r="4.1667" fill="#bf00bf" stroke="#000" stroke-width="0.85"/>
<circle cx="181.5" cy="423.5" r="4.1667" fill="#bf00bf" stroke="#000" stroke-width="0.85"/>
<circle cx="218.5" cy="422.5" r="4.1667" fill="#bf00bf" stroke="#000" stroke-width="0.85"/>
<circle cx="187.5" cy="423.5" r="4.1667" fill="#bf00bf" stroke="#000" stroke-width="0.85"/>
<circle cx="202.5" cy="423.5" r="4.1667" fill="#bf00bf" stroke="#000" stroke-width="0.85"/>
<circle cx="196.5" cy="420.5" r="4.1667" fill="#bf00bf" stroke="#000" stroke-width="0.85"/>
<circle cx="186.5" cy="419.5" r="4.1667" fill="#bf00bf" stroke="#000" stroke-width="0.85"/>
<circle cx="201.5" cy="422.5" r="4.1667" fill="#bf00bf" stroke="#000" stroke-width="0.85"/>
<circle cx="176.5" cy="421.5" r="4.1667" fill="#bf00bf" stroke="#000" stroke-width="0.85"/>
<circle cx="202.5" cy="419.5" r="4.1667" fill="#bf00bf" stroke="#000" stroke-width="0.85"/>
<circle cx="184.5" cy="423.5" r="4.1667" fill="#bf00bf" stroke="#000" stroke-width="0.85"/>
<circle cx="206.5" cy="422.5" r="4.1667" fill="#bf00bf" stroke="#000" stroke-width="0.85"/>
<circle cx="189.5" cy="421.5" r="4.1667" fill="#bf00bf" stroke="#000" stroke-width="0.85"/>
<circle cx="219.5" cy="423.5" r="4.1667" fill="#bf00bf" stroke="#000" stroke-width="0.85"/>
<circle cx="174.5" cy="423.5" r="4.1667" fill="#bf00bf" stroke="#000" stroke-width="0.85"/>
<circle cx="197.5" cy="422.5" r="4.1667" fill="#bf00bf" stroke="#000" stroke-width="0.85"/>
<circle cx="185.5" cy="422.5" r="4.1667" fill="#bf00bf" stroke="#000" stroke-width="0.85"/>
<circle cx="175.5" cy="423.5" r="4.1667" fill="#bf00bf" stroke="#000" stroke-width="0.85"/>
<circle cx="209.5" cy="423.5" r="4.1667" fill="#bf00bf" stroke="#000" stroke-width="0.85"/>
<circle cx="187.5" cy="422.5" r="4.1667" fill="#bf00bf" stroke="#000" stroke-width="0.85"/>
<circle cx="214.5" cy="422.5" r="4.1667" fill="#bf00bf" stroke="#000" stroke-width="0.85"/>
<circle cx="206.5" cy="419.5" r="4.1667" fill="#bf00bf" stroke="#000" stroke-width="0.85"/>
<circle cx="218.5" cy="422.5" r="4.1667" fill="#bf00bf" stroke="#000" stroke-width="0.85"/>
<circle cx="186.5" cy="424.5" r="4.1667" fill="#bf00bf" stroke="#000" stroke-width="0.85"/>
<circle cx="212.5" cy="424.5" r="4.1667" fill="#bf00bf" stroke="#000" stroke-width="0.85"/>
<circle cx="190.5" cy="424.5" r="4.1667" fill="#bf00bf" stroke="#000" stroke-width="0.85"/>
<circle cx="206.5" cy="423.5" r="4.1667" fill="#bf00bf" stroke="#000" stroke-width="0.85"/>
<circle cx="223.5" cy="424.5" r="4.1667" fill="#bf00bf" stroke="#000" stroke-width="0.85"/>
<circle cx="209.5" cy="420.5" r="4.1667" fill="#bf00bf" stroke="#000" stroke-width="0.85"/>
<circle cx="210.5" cy="422.5" r="4.1667" fill="#bf00bf" stroke="#000" stroke-width="0.85"/>
<circle cx="184.5" cy="421.5" r="4.1667" fill="#bf00bf" stroke="#000" stroke-width="0.85"/>
<circle cx="220.5" cy="421.5" r="4.1667" fill="#bf00bf" stroke="#000" stroke-width="0.85"/>
<circle cx="179.5" cy="419.5" r="4.1667" fill="#bf00bf" stroke="#000" stroke-width="0.85"/>
<circle cx="181.5" cy="421.5" r="4.1667" fill="#bf00bf" stroke="#000" stroke-width="0.85"/>
<circle cx="209.5" cy="423.5" r="4.1667" fill="#bf00bf" stroke="#000" stroke-width="0.85"/>
<circle cx="211.5" cy="423.5" r="4.1667" fill="#bf00bf" stroke="#000" stroke-width="0.85"/>
<circle cx="192.5" cy="424.5" r="4.1667" fill="#bf00bf" stroke="#000" stroke-width="0.85"/>
<circle cx="219.5" cy="424.5" r="4.1667" fill="#bf00bf" stroke="#000" stroke-width="0.85"/>
<circle cx="220.5" cy="419.5" r="4.1667" fill="#bf00bf" stroke="#000" stroke-width="0.85"/>
<circle cx="184.5" cy="421.5" r="4.1667" fill="#bf00bf" stroke="#000" stroke-width="0.85"/>
<circle cx="217.5" cy="423.5" r="4.1667" fill="#bf00bf" stroke="#000" stroke-width="0.85"/>
<circle cx="216.5" cy="422.5" r="4.1667" fill="#bf00bf" stroke="#000" stroke-width="0.85"/>
<circle cx="179.5" cy="423.5" r="4.1667" fill="#bf00bf" stroke="#000" stroke-width="0.85"/>
<circle cx="184.5" cy="422.5" r="4.1667" fill="#bf00bf" stroke="#000" stroke-width="0.85"/>
<circle cx="175.5" cy="422.5" r="4.1667" fill="#bf00bf" stroke="#000" stroke-width="0.85"/>
<circle cx="210.5" cy="422.5" r="4.1667" fill="#bf00bf" stroke="#000" stroke-width="0.85"/>
<circle cx="223.5" cy="424.5" r="4.1667" fill="#bf00bf" stroke="#000" stroke-width="0.85"/>
<circle cx="205.5" cy="422.5" r="4.1667" fill="#bf00bf" stroke="#000" stroke-width="0.85"/>
<circle cx="196.5" cy="422.5" r="4.1667" fill="#bf00bf" stroke="#000" stroke-width="0.85"/>
<circle cx="209.5" cy="422.5" r="4.1667" fill="#bf00bf" stroke="#000" stroke-width="0.85"/>
<circle cx="217.5" cy="424.5" r="4.1667" fill="#bf00bf" stroke="#000" stroke-width="0.85"/>
<circle cx="182.5" cy="422.5" r="4.1667" fill="#bf00bf" stroke="#000" stroke-width="0.85"/>
<circle cx="212.5" cy="424.5" r="4.1667" fill="#bf00bf" stroke="#000" stroke-width="0.85"/>
<circle cx="199.5" cy="424.5" r="4.1667" fill="#bf00bf" stroke="#000" stroke-width="0.85"/>
<circle cx="183.5" cy="422.5" r="4.1667" fill="#bf00bf" stroke="#000" stroke-width="0.85"/>
<circle cx="216.5" cy="424.5" r="4.1667" fill="#bf00bf" stroke="#000" stroke-width="0.85"/>
<circle cx="188.5" cy="423.5" r="4.1667" fill="#bf00bf" stroke="#000" stroke-width="0.85"/>
<circle cx="199.5" cy="423.5" r="4.1667" fill="#bf00bf" stroke="#000" stroke-width="0.85"/>
<circle cx="178.5" cy="423.5" r="4.1667" fill="#bf00bf" stroke="#000" stroke-width="0.85"/>
<circle cx="214.5" cy="422.5" r="4.1667" fill="#bf00bf" stroke="#000" stroke-width="0.85"/>
<circle cx="194.5" cy="424.5" r="4.1667" fill="#bf00bf" stroke="#000" stroke-width="0.85"/>
<circle cx="178.5" cy="419.5" r="4.1667" fill="#bf00bf" stroke="#000" stroke-width="0.85"/>
<circle cx="184.5" cy="424.5" r="4.1667" fill="#bf00bf" stroke="#000" stroke-width="0.85"/>
<circle cx="199.5" cy="424.5" r="4.1667" fill="#bf00bf" stroke="#000" stroke-width="0.85"/>
<circle cx="185.5" cy="423.5" r="4.1667" fill="#bf00bf" stroke="#000" stroke-width="0.85"/>
<circle cx="212.5" cy="423.5" r="4.1667" fill="#bf00bf" stroke="#000" stroke-width="0.85"/>
<circle cx="191.5" cy="422.5" r="4.1667" fill="#bf00bf" stroke="#000" stroke-width="0.85"/>
<circle cx="216.5" cy="423.5" r="4.1667" fill="#bf00bf" stroke="#000" stroke-width="0.85"/>
<circle cx="182.5" cy="424.5" r="4.1667" fill="#bf00bf" stroke="#000" stroke-width="0.85"/>
<circle cx="203.5" cy="423.5" r="4.1667" fill="#bf00bf" stroke="#000" stroke-width="0.85"/>
<circle cx="219.5" cy="422.5" r="4.1667" fill="#bf00bf" stroke="#000" stroke-width="0.85"/>
<circle cx="189.5" cy="424.5" r="4.1667" fill="#bf00bf" stroke="#000" stroke-width="0.85"/>
<circle cx="181.5" cy="422.5" r="4.1667" fill="#bf00bf" stroke="#000" stroke-width="0.85"/>
<circle cx="190.5" cy="422.5" r="4.1667" fill="#bf00bf" stroke="#000" stroke-width="0.85"/>
<circle cx="190.5" cy="424.5" r="4.1667" fill="#bf00bf" stroke="#000" stroke-width="0.85"/>
<circle cx="211.5" cy="424.5" r="4.1667" fill="#bf00bf" stroke="#000" stroke-width="0.85"/>
<circle cx="179.5" cy="424.5" r="4.1667" fill="#bf00bf" stroke="#000" stroke-width="0.85"/>
<circle cx="214.5" cy="422.5" r="4.1667" fill="#bf00bf" stroke="#000" stroke-width="0.85"/>
<circle cx="184.5" cy="421.5" r="4.1667" fill="#bf00bf" stroke="#000" stroke-width="0.85"/>
<circle cx="184.5" cy="421.5" r="4.1667" fill="#bf00bf" stroke="#000" stroke-width="0.85"/>
<circle cx="194.5" cy="423.5" r="4.1667" fill="#bf00bf" stroke="#000" stroke-width="0.85"/>
<circle cx="199.5" cy="423.5" r="4.1667" fill="#bf00bf" stroke="#000" stroke-width="0.85"/>
<circle cx="181.5" cy="422.5" r="4.1667" fill="#bf00bf" stroke="#000" stroke-width="0.85"/>
<circle cx="211.5" cy="420.5" r="4.1667" fill="#bf00bf" stroke="#000" stroke-width="0.85"/>
<circle cx="203.5" cy="422.5" r="4.1667" fill="#bf00bf" stroke="#000" stroke-width="0.85"/>
<circle cx="185.5" cy="424.5" r="4.1667" fill="#bf00bf" stroke="#000" stroke-width="0.85"/>
<circle cx="226.5" cy="418.5" r="4.1667" fill="#bf00bf" stroke="#000" stroke-width="0.85"/>
<circle cx="226.5" cy="423.5" r="4.1667" fill="#bf00bf" stroke="#000" stroke-width="0.85"/>
<circle cx="175.5" cy="423.5" r="4.1667" fill="#bf00bf" stroke="#000" stroke-width="0.85"/>
<path d="M100.5 424.5H382.5" stroke="#0000ff" stroke-width="1.3889" stroke-dasharray="8.333,8.333" fill="none"/>
<path d="M100.5 423.5H382.5" stroke="#ff0000" stroke-width="1.3889" stroke-dasharray="8.333,8.333" fill="none"/>
<path d="M100.5 419.5H382.5" stroke="#0000ff" stroke-width="1.3889" stroke-dasharray="4.167,6.944,1.389,6.944" fill="none"/>
<path d="M100.5 427.5H382.5" stroke="#0000ff" stroke-width="1.3889" stroke-dasharray="4.167,6.944,1.389,6.944" fill="none"/>
</g>
<g clip-path="url(#c2)">
<path d="M438.5 386.5H441.5V322.5H438.5Z" fill="#0000ff" stroke="#000" stroke-width="1.3889" stroke-linejoin="round"/>
<path d="M438.5 322.5H669.5V258.5H438.5Z" fill="#0000ff" stroke="#000" stroke-width="1.3889" stroke-linejoin="round"/>
<path d="M438.5 258.5H483.5V193.5H438.5Z" fill="#0000ff" stroke="#000" stroke-width="1.3889" stroke-linejoin="round"/>
<path d="M438.5 129.5H444.5V65.5H438.5Z" fill="#0000ff" stroke="#000" stroke-width="1.3889" stroke-linejoin="round"/>
<path d="M438.5 292.5H720.5" stroke="#000" stroke-width="1.3889" stroke-dasharray="8.333,8.333" fill="none"/>
</g>
<path d="M100.5 540.5v-5.556M138.5 540.5v-5.556M175.5 540.5v-5.556M213.5 540.5v-5.556M250.5 540.5v-5.556M288.5 540.5v-5.556M325.5 540.5v-5.556M363.5 540.5v-5.556M135.5 60.5v5.556M173.5 60.5v5.556M210.5 60.5v5.556M248.5 60.5v5.556M286.5 60.5v5.556M323.5 60.5v5.556M361.5 60.5v5.556M100.5 540.5h5.556M382.5 540.5h-5.556M100.5 420.5h5.556M382.5 420.5h-5.556M100.5 300.5h5.556M382.5 300.5h-5.556M100.5 180.5h5.556M382.5 180.5h-5.556M100.5 60.5h5.556M382.5 60.5h-5.556M438.5 540.5h5.556M720.5 540.5h-5.556M438.5 480.5h5.556M720.5 480.5h-5.556M438.5 420.5h5.556M720.5 420.5h-5.556M438.5 360.5h5.556M720.5 360.5h-5.556M438.5 300.5h5.556M720.5 300.5h-5.556M438.5 240.5h5.556M720.5 240.5h-5.556M438.5 180.5h5.556M720.5 180.5h-5.556M438.5 120.5h5.556M720.5 120.5h-5.556M438.5 60.5h5.556M720.5 60.5h-5.556M438.5 540.5v-5.556M438.5 60.5v5.556M495.5 540.5v-5.556M495.5 60.5v5.556M551.5 540.5v-5.556M551.5 60.5v5.556M607.5 540.5v-5.556M607.5 60.5v5.556M664.5 540.5v-5.556M664.5 60.5v5.556M720.5 540.5v-5.556M720.5 60.5v5.556" stroke="#000" stroke-width="0.6944" fill="none"/>
<path d="M100.5 60.5H382.5V540.5H100.5Z" fill="none" stroke="#000" stroke-width="1.3889" stroke-linejoin="round"/>
<path d="M438.5 60.5H720.5V540.5H438.5Z" fill="none" stroke="#000" stroke-width="1.3889" stroke-linejoin="round"/>
<g font-family="'DejaVu Sans', 'Liberation Sans', sans-serif" fill="#000"><text transform="translate(100.00 560.00) scale(1.0 1.08)" font-size="16.67" text-anchor="middle">−20</text><text transform="translate(137.57 560.00) scale(1.0 1.08)" font-size="16.67" text-anchor="middle">−18</text><text transform="translate(175.15 560.00) scale(1.0 1.08)" font-size="16.67" text-anchor="middle">−16</text><text transform="translate(212.72 560.00) scale(1.0 1.08)" font-size="16.67" text-anchor="middle">−14</text><text transform="translate(250.29 560.00) scale(1.0 1.08)" font-size="16.67" text-anchor="middle">−12</text><text transform="translate(287.87 560.00) scale(1.0 1.08)" font-size="16.67" text-anchor="middle">−10</text><text transform="translate(325.44 560.00) scale(1.0 1.08)" font-size="16.67" text-anchor="middle">−8</text><text transform="translate(363.01 560.00) scale(1.0 1.08)" font-size="16.67" text-anchor="middle">−6</text><text transform="translate(242.20 584.00) scale(1.0 1.08)" font-size="16.67" text-anchor="middle">magnitude (bottom:isnt / top:calib)</text><text transform="translate(95.50 545.00) scale(0.96 1.08)" font-size="16.67" text-anchor="end">0</text><text transform="translate(95.50 425.00) scale(0.96 1.08)" font-size="16.67" text-anchor="end">5</text><text transform="translate(95.50 305.00) scale(0.96 1.08)" font-size="16.67" text-anchor="end">10</text><text transform="translate(95.50 65.00) scale(0.96 1.08)" font-size="16.67" text-anchor="end">20</text><text transform="translate(63.60 300.00) rotate(-90) scale(1.0 1.08)" font-size="16.67" text-anchor="middle">FWHM (pix)</text><text transform="translate(438.78 560.00) scale(0.96 1.08)" font-size="16.67" text-anchor="middle">0</text><text transform="translate(495.14 560.00) scale(0.96 1.08)" font-size="16.67" text-anchor="middle">20</text><text transform="translate(551.50 560.00) scale(0.96 1.08)" font-size="16.67" text-anchor="middle">40</text><text transform="translate(607.86 560.00) scale(0.96 1.08)" font-size="16.67" text-anchor="middle">60</text><text transform="translate(664.22 560.00) scale(0.96 1.08)" font-size="16.67" text-anchor="middle">80</text><text transform="translate(720.58 560.00) scale(0.96 1.08)" font-size="16.67" text-anchor="middle">100</text><text transform="translate(579.70 584.00) scale(1.0 1.08)" font-size="16.67" text-anchor="middle">number of sources</text><text transform="translate(433.30 545.00) scale(0.95 1.08)" font-size="16.67" text-anchor="end">4.0</text><text transform="translate(433.30 485.00) scale(0.95 1.08)" font-size="16.67" text-anchor="end">4.2</text><text transform="translate(433.30 425.00) scale(0.95 1.08)" font-size="16.67" text-anchor="end">4.4</text><text transform="translate(433.30 365.00) scale(0.95 1.08)" font-size="16.67" text-anchor="end">4.6</text><text transform="translate(433.30 305.00) scale(0.95 1.08)" font-size="16.67" text-anchor="end">4.8</text><text transform="translate(433.30 245.00) scale(0.95 1.08)" font-size="16.67" text-anchor="end">5.0</text><text transform="translate(433.30 185.00) scale(0.95 1.08)" font-size="16.67" text-anchor="end">5.2</text><text transform="translate(433.30 125.00) scale(0.95 1.08)" font-size="16.67" text-anchor="end">5.4</text><text transform="translate(433.30 65.00) scale(0.95 1.08)" font-size="16.67" text-anchor="end">5.6</text><text transform="translate(395.70 300.00) rotate(-90) scale(1.0 1.08)" font-size="16.67" text-anchor="middle">FWHM of best-effort PSF-like sources</text><text transform="translate(580.10 53.00)" font-size="20" text-anchor="middle">histogram of FWHM</text><text transform="translate(135.28 50.00) scale(0.92 1.08)" font-size="16.67" text-anchor="middle">14</text><text transform="translate(172.85 50.00) scale(0.92 1.08)" font-size="16.67" text-anchor="middle">16</text><text transform="translate(210.43 50.00) scale(0.92 1.08)" font-size="16.67" text-anchor="middle">18</text><text transform="translate(248.00 50.00) scale(0.92 1.08)" font-size="16.67" text-anchor="middle">20</text><text transform="translate(285.57 50.00) scale(0.92 1.08)" font-size="16.67" text-anchor="middle">22</text><text transform="translate(323.15 50.00) scale(0.92 1.08)" font-size="16.67" text-anchor="middle">24</text><text transform="translate(360.72 50.00) scale(0.92 1.08)" font-size="16.67" text-anchor="middle">26</text><text transform="translate(227.10 28.70)" font-size="20" text-anchor="middle">FWHM vs magnitudes</text></g>
<rect x="27.5" y="70.5" width="345" height="180" fill="#fff" stroke="#000" stroke-width="1.3889" stroke-linejoin="round"/><path d="M37.33 86.50H45.67M41.50 82.33V90.67M65.33 86.50H73.67M69.50 82.33V90.67" stroke="#00bfbf" stroke-width="0.6944" fill="none"/><path d="M37.33 111.33L45.67 119.67M37.33 119.67L45.67 111.33M65.33 111.33L73.67 119.67M65.33 119.67L73.67 111.33" stroke="#0000ff" stroke-width="1.1" fill="none"/><circle cx="41.5" cy="144.5" r="4.1667" fill="#bf00bf" stroke="#000" stroke-width="0.85"/><circle cx="69.5" cy="144.5" r="4.1667" fill="#bf00bf" stroke="#000" stroke-width="0.85"/><path d="M41.3 173.5H69.3" stroke="#0000ff" stroke-width="1.3889" stroke-dasharray="8.333,8.333" fill="none"/><path d="M41.3 202.5H69.3" stroke="#ff0000" stroke-width="1.3889" stroke-dasharray="8.333,8.333" fill="none"/><path d="M41.3 231.5H69.3" stroke="#0000ff" stroke-width="1.3889" stroke-dasharray="4.167,6.944,1.389,6.944" fill="none"/><g font-family="'DejaVu Sans', 'Liberation Sans', sans-serif" fill="#000"><text transform="translate(91.30 93.00)" font-size="20" text-anchor="start">all sample</text><text transform="translate(91.30 122.05)" font-size="20" text-anchor="start">sample for rough FWHM</text><text transform="translate(91.30 151.10)" font-size="20" text-anchor="start">best-effort PSF-like sample</text><text transform="translate(91.30 180.15)" font-size="20" text-anchor="start">resultant FWHM: 4.83</text><text transform="translate(91.30 209.20)" font-size="20" text-anchor="start">median FHWM of sequence</text><text transform="translate(91.30 238.25)" font-size="20" text-anchor="start">sigma range</text></g>
</svg>
</body></html>
